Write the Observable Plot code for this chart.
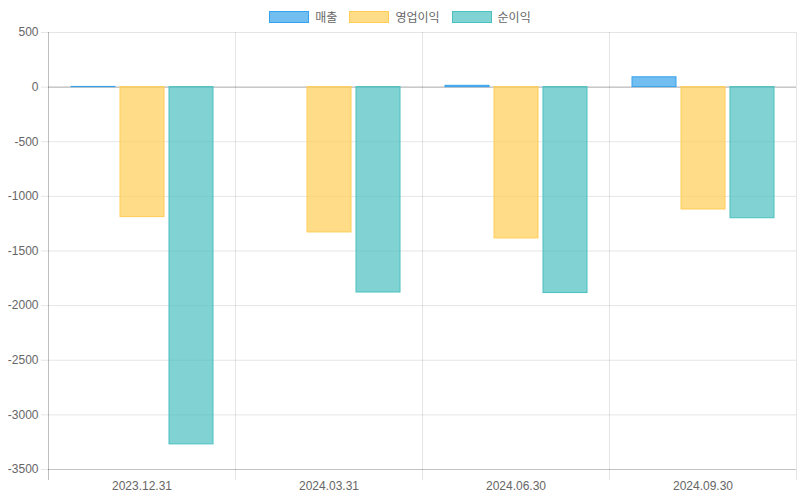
<!DOCTYPE html>
<html>
<head>
<meta charset="utf-8">
<script src="https://cdn.jsdelivr.net/npm/d3@7"></script>
<script src="https://cdn.jsdelivr.net/npm/@observablehq/plot@0.6"></script>
<style>
  html, body { margin: 0; padding: 0; background: #fff; }
  body { width: 800px; height: 500px; overflow: hidden; font-family: "Helvetica Neue", Helvetica, Arial, "Liberation Sans", "Noto Sans CJK KR", sans-serif; }
  #legend { height: 26px; display: flex; justify-content: center; align-items: flex-start; padding-top: 0; box-sizing: border-box; }
  .item { display: flex; align-items: center; margin: 8px 6px 0 6px; font-size: 12px; color: #666; }
  .swatch { width: 40px; height: 12px; box-sizing: border-box; border: 1px solid; margin-right: 6px; }
</style>
</head>
<body>
<div id="legend"></div>
<div id="chart"></div>
<script>
const dates = ["2023.12.31", "2024.03.31", "2024.06.30", "2024.09.30"];
const series = ["매출", "영업이익", "순이익"];
const revenue = [2, 0, 12, 90];
const operatingIncome = [-1190, -1330, -1385, -1120];
const netIncome = [-3270, -1880, -1885, -1200];
const colors = ["rgb(54,162,235)", "rgb(255,205,86)", "rgb(75,192,192)"];
const fills = ["rgba(54,162,235,0.7)", "rgba(255,205,86,0.7)", "rgba(75,192,192,0.7)"];
const yTicks = [500, 0, -500, -1000, -1500, -2000, -2500, -3000, -3500];

const valuesBySeries = [revenue, operatingIncome, netIncome];
const rows = [];
dates.forEach((date, i) => {
  series.forEach((s, j) => {
    rows.push({date, series: s, value: valuesBySeries[j][i]});
  });
});

// legend
const legend = document.getElementById("legend");
series.forEach((s, j) => {
  const item = document.createElement("div");
  item.className = "item";
  const sw = document.createElement("div");
  sw.className = "swatch";
  sw.style.background = fills[j];
  sw.style.borderColor = colors[j];
  const label = document.createElement("span");
  label.textContent = s;
  item.appendChild(sw);
  item.appendChild(label);
  legend.appendChild(item);
});

const chart = Plot.plot({
  width: 800,
  height: 474,
  marginTop: 6,
  marginBottom: 21,
  marginLeft: 47,
  marginRight: 3,
  style: {fontFamily: '"Helvetica Neue", Helvetica, Arial, "Liberation Sans", "Noto Sans CJK KR", sans-serif', fontSize: "12px", color: "#666", background: "#fff"},
  fx: {domain: dates, padding: 0, label: null},
  x: {domain: series, paddingInner: 0.1, paddingOuter: 0.425, align: 0.52, axis: null},
  y: {domain: [-3500, 500], range: [443, 6], axis: null},
  color: {domain: series, range: colors},
  marks: [
    Plot.gridY(yTicks, {stroke: "#000", strokeOpacity: 0.1}),
    Plot.frame({anchor: "right", stroke: "#000", strokeOpacity: 0.1}),
    Plot.frame({anchor: "left", stroke: "#000", strokeOpacity: 0.25, fx: () => dates[0]}),
    Plot.ruleY([0], {stroke: "#000", strokeOpacity: 0.25}),
    Plot.ruleY([-3500], {stroke: "#000", strokeOpacity: 0.15}),
    Plot.barY(rows.filter(d => d.value !== 0), {fx: "date", x: "series", y: "value", fill: "series", fillOpacity: 0.7, stroke: "series", strokeWidth: 1}),
    Plot.axisY(yTicks, {anchor: "left", tickSize: 7, tickPadding: 3, stroke: "#000", strokeOpacity: 0.1, fill: "#666", label: null, tickFormat: d => String(d)}),
    Plot.axisFx({anchor: "bottom", tickSize: 0, tickPadding: 2, fill: "#666", label: null})
  ]
});
document.getElementById("chart").appendChild(chart);
</script>
</body>
</html>
